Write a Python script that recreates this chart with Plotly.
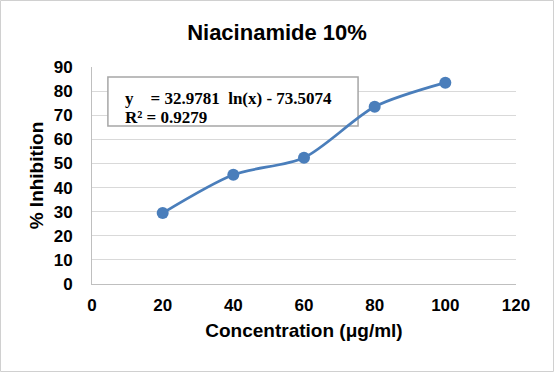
import plotly.graph_objects as go

concentration = [20, 40, 60, 80, 100]
inhibition = [29.4, 45.3, 52.4, 73.5, 83.5]
x_ticks = [0, 20, 40, 60, 80, 100, 120]
y_ticks = [0, 10, 20, 30, 40, 50, 60, 70, 80, 90]
title_text = "Niacinamide 10%"
x_title = "Concentration (μg/ml)"
y_title = "% Inhibition"
eq_line1 = "y    = 32.9781  ln(x) - 73.5074"
eq_line2 = "R² = 0.9279"

W, H = 554, 372
ml, mr, mt, mb = 92, 38, 67, 88
pw, ph = W - ml - mr, H - mt - mb

FONT = "Liberation Sans, Arial, sans-serif"
SERIF = "Liberation Serif, Times New Roman, serif"

fig = go.Figure()
fig.add_trace(go.Scatter(
    x=concentration, y=inhibition, mode="lines+markers",
    line=dict(color="#4A7EBB", width=2.75, shape="spline", smoothing=0.8),
    marker=dict(color="#4A7EBB", size=12),
    showlegend=False,
))

fig.update_layout(
    width=W, height=H,
    margin=dict(l=ml, r=mr, t=mt, b=mb),
    paper_bgcolor="white", plot_bgcolor="white",
    font=dict(family=FONT, color="black"),
    title=dict(text=title_text, x=0.5, xanchor="center",
               y=1 - 32 / H, yanchor="middle",
               font=dict(size=22, weight="bold", family=FONT)),
    xaxis=dict(range=[0, 120], tickvals=x_ticks, showgrid=False,
               showline=True, linecolor="#BFBFBF", linewidth=1,
               ticks="", zeroline=False,
               tickfont=dict(size=17, weight="bold", family=FONT),
               ticklabelstandoff=6,
               title=dict(text=x_title, font=dict(size=19, weight="bold", family=FONT), standoff=9)),
    yaxis=dict(range=[0, 90], tickvals=y_ticks, showgrid=True, gridcolor="#D9D9D9",
               gridwidth=1, showline=True, linecolor="#BFBFBF", linewidth=1,
               ticks="", zeroline=False,
               tickfont=dict(size=17, weight="bold", family=FONT),
               ticklabelstandoff=15,
               title=dict(text=y_title, font=dict(size=19, weight="bold", family=FONT), standoff=5)),
)

# equation box
fig.add_shape(type="rect", xref="x", yref="y", x0=4.5, x1=75.3, y0=65.5, y1=85.9,
              line=dict(color="#A6A6A6", width=1.5), fillcolor="white", layer="between")
fig.add_annotation(xref="x", yref="y", x=8.8, y=(284 - 98) / (217 / 90), xanchor="left", yanchor="middle",
                   text=eq_line1, showarrow=False, align="left",
                   font=dict(family=SERIF, size=17, color="black", weight="bold"))
fig.add_annotation(xref="x", yref="y", x=8.8, y=(284 - 117) / (217 / 90), xanchor="left", yanchor="middle",
                   text=eq_line2, showarrow=False, align="left",
                   font=dict(family=SERIF, size=17, color="black", weight="bold"))

# outer chart border
fig.add_shape(type="rect", xref="paper", yref="paper",
              x0=-(ml - 0.5) / pw, x1=1 + (mr - 0.5) / pw,
              y0=-(mb - 0.5) / ph, y1=1 + (mt - 0.5) / ph,
              line=dict(color="#D0D0D0", width=1), layer="below")

fig.write_html("out.html", config={"displayModeBar": False},
               post_script="document.body.style.margin='0';")
